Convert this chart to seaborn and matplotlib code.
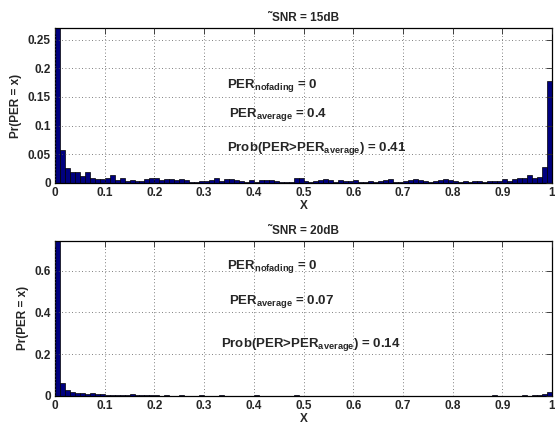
import numpy as np
import pandas as pd
import matplotlib
matplotlib.use("Agg")
import matplotlib.pyplot as plt
import seaborn as sns

# histogram bins of PER, width 0.01 on [0, 1]
bin_edges = np.linspace(0, 1, 101)
bin_centers = (bin_edges[:-1] + bin_edges[1:]) / 2

# Pr(PER = x) at SNR = 15dB (first bin clipped in the plot)
pr_15db = [
    0.300, 0.057, 0.026, 0.018, 0.018, 0.012, 0.019, 0.008, 0.006, 0.007,
    0.009, 0.014, 0.005, 0.009, 0.003, 0.004, 0.0035, 0.0025, 0.007, 0.008,
    0.008, 0.004, 0.007, 0.006, 0.004, 0.007, 0.005, 0.002, 0.002, 0.003,
    0.003, 0.005, 0.009, 0.003, 0.006, 0.0065, 0.005, 0.003, 0.002, 0.005,
    0.002, 0.005, 0.004, 0.005, 0.003, 0.002, 0.002, 0.0015, 0.008, 0.009,
    0.0035, 0.002, 0.003, 0.005, 0.006, 0.004, 0.002, 0.004, 0.003, 0.003,
    0.004, 0.002, 0.002, 0.003, 0.002, 0.003, 0.005, 0.006, 0.002, 0.002,
    0.003, 0.005, 0.006, 0.004, 0.003, 0.002, 0.003, 0.004, 0.007, 0.005,
    0.003, 0.002, 0.003, 0.002, 0.003, 0.003, 0.002, 0.003, 0.0035, 0.0035,
    0.007, 0.003, 0.007, 0.0076, 0.009, 0.013, 0.0076, 0.0105, 0.027, 0.178,
]

# Pr(PER = x) at SNR = 20dB (first bin clipped in the plot)
pr_20db = [
    0.780, 0.059, 0.027, 0.019, 0.014, 0.011, 0.010, 0.013, 0.010, 0.008,
    0.005, 0.004, 0.005, 0.003, 0.004, 0.006, 0.002, 0.003, 0.005, 0.002,
    0.002, 0.001, 0.002, 0.001, 0.001, 0.002, 0.001, 0.001, 0.001, 0.002,
    0.001, 0.001, 0.001, 0.002, 0.001, 0.001, 0.001, 0.001, 0.001, 0.001,
    0.002, 0.001, 0.001, 0.001, 0.001, 0.001, 0.001, 0.001, 0.002, 0.001,
    0.001, 0.001, 0.001, 0.001, 0.001, 0.001, 0.001, 0.001, 0.001, 0.001,
    0.001, 0.001, 0.001, 0.001, 0.001, 0.001, 0.001, 0.001, 0.001, 0.001,
    0.001, 0.001, 0.001, 0.001, 0.001, 0.001, 0.001, 0.001, 0.001, 0.001,
    0.001, 0.001, 0.001, 0.001, 0.001, 0.001, 0.001, 0.001, 0.002, 0.001,
    0.001, 0.001, 0.001, 0.001, 0.002, 0.001, 0.004, 0.002, 0.008, 0.019,
]

titles = ["\u02dcSNR = 15dB", "\u02dcSNR = 20dB"]
per_nofading = ["0", "0"]
per_average = ["0.4", "0.07"]
prob_above = ["0.41", "0.14"]

x_ticks = [0, 0.1, 0.2, 0.3, 0.4, 0.5, 0.6, 0.7, 0.8, 0.9, 1]
x_ticklabels = ["0", "0.1", "0.2", "0.3", "0.4", "0.5", "0.6", "0.7", "0.8", "0.9", "1"]
y_ticks_15 = [0, 0.05, 0.1, 0.15, 0.2, 0.25]
y_ticklabels_15 = ["0", "0.05", "0.1", "0.15", "0.2", "0.25"]
y_ticks_20 = [0, 0.2, 0.4, 0.6]
y_ticklabels_20 = ["0", "0.2", "0.4", "0.6"]

sns.set_style("white")
plt.rcParams['font.family'] = ['Liberation Sans', 'DejaVu Sans']
plt.rcParams['font.weight'] = 'bold'
plt.rcParams['mathtext.fontset'] = 'custom'
plt.rcParams['mathtext.bf'] = 'Liberation Sans:bold'
plt.rcParams['mathtext.rm'] = 'Liberation Sans:bold'
plt.rcParams['mathtext.default'] = 'bf'

fig = plt.figure(figsize=(5.55, 4.32), dpi=100)
ax_top = fig.add_axes([0.0991, 0.5771, 0.8955, 0.3574])
ax_bot = fig.add_axes([0.0991, 0.0840, 0.8955, 0.3588])

# annotation anchors (x, baseline y) for each panel
panels = [
    (ax_top, pr_15db, 0.27, y_ticks_15, y_ticklabels_15,
     [(0.346, 0.1655), (0.350, 0.115), (0.346, 0.055)]),
    (ax_bot, pr_20db, 0.745, y_ticks_20, y_ticklabels_20,
     [(0.347, 0.61), (0.350, 0.443), (0.335, 0.234)]),
]

for i, (ax, values, ymax, yt, ytl, anchors) in enumerate(panels):
    df = pd.DataFrame({"PER": bin_centers, "pr": values})
    sns.histplot(data=df, x="PER", weights="pr", binwidth=0.01, binrange=(0, 1),
                 stat="count", color="#00007f", edgecolor="black", linewidth=0.5,
                 alpha=1.0, ax=ax)
    ax.set_xlim(0, 1)
    ax.set_ylim(0, ymax)
    ax.set_xticks(x_ticks)
    ax.set_xticklabels(x_ticklabels, fontsize=8.5, fontweight='bold')
    ax.set_yticks(yt)
    ax.set_yticklabels(ytl, fontsize=8.5, fontweight='bold')
    ax.tick_params(direction='in', top=True, right=True, length=4, width=0.6, pad=3)
    ax.grid(True, color='#555555', linestyle=(0, (1, 3)), linewidth=0.6)
    ax.set_axisbelow(False)
    for sp in ax.spines.values():
        sp.set_visible(True)
        sp.set_linewidth(0.9)
        sp.set_color('black')
    ax.set_xlabel("X", fontsize=8.5, fontweight='bold', labelpad=1)
    ax.set_ylabel("Pr(PER = x)", fontsize=8.5, fontweight='bold', labelpad=4)
    ax.set_title(titles[i], fontsize=8.5, fontweight='bold', pad=5)

    labels = ["PER$_{nofading}$ = " + per_nofading[i],
              "PER$_{average}$ = " + per_average[i],
              "Prob(PER>PER$_{average}$) = " + prob_above[i]]
    for (tx, ty), lab in zip(anchors, labels):
        ax.text(tx, ty, lab, fontsize=9.5, va='baseline', ha='left')

fig.savefig("out.png", dpi=100)
